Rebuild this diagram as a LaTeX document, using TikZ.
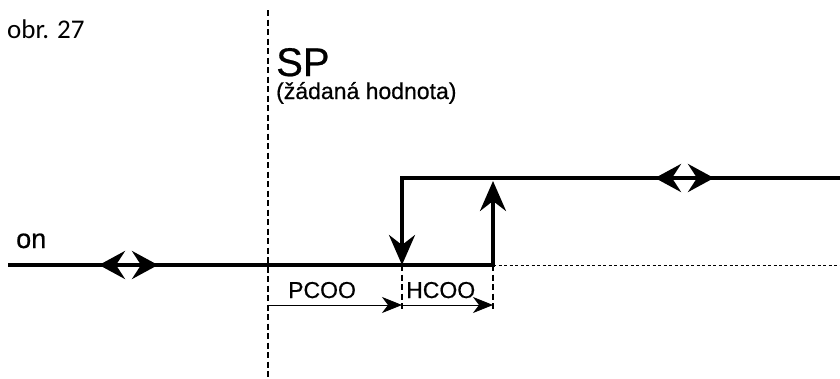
\documentclass[tikz,border=0pt]{standalone}
\usepackage{fontspec}
\setmainfont{Liberation Sans}[FakeBold=0.6]
\newfontfamily\obrfont{Carlito}
\usetikzlibrary{arrows.meta}

\begin{document}
\begin{tikzpicture}[x=1pt,y=-1pt,
  level/.style={line width=4pt,line join=miter},
  bigtip/.style={-{Stealth[length=30pt,width=26pt,inset=10pt]}},
  twin/.style={line width=4pt,-{Stealth[length=26pt,width=28pt,inset=9pt]}},
  dimline/.style={line width=0.9pt,-{Stealth[length=20pt,width=16pt,inset=6pt]}},
  guide/.style={line width=1.1pt,dash pattern=on 6pt off 3.5pt},
  fine/.style={line width=1pt,dash pattern=on 3pt off 2.5pt},
  lbl/.style={anchor=base west,inner sep=0pt}]
\useasboundingbox (0,0) rectangle (840,378);
% set point line
\coordinate (SPtop) at (268,10); \coordinate (SPbot) at (268,378);
\draw[guide] (SPtop) -- (SPbot);
% on and off levels
\coordinate (L) at (8,265); \coordinate (A) at (402,265); \coordinate (B) at (493,265);
\coordinate (A2) at (402,178); \coordinate (B2) at (493,181);
\coordinate (R2) at (840,178); \coordinate (R) at (840,265);
\draw[level,bigtip] (L) -- (B) -- (B2);
\draw[level,bigtip] (R2) -- (A2) -- (A);
\draw[fine] (B) -- (R);
% shifting arrows
\coordinate (T1) at (129,265); \coordinate (T2) at (684,178);
\draw[twin] (T1) -- ++(-30,0); \draw[twin] (T1) -- ++(29,0);
\draw[twin] (T2) -- ++(-29,0); \draw[twin] (T2) -- ++(30,0);
% differentials
\coordinate (Ad) at (402,312); \coordinate (Bd) at (493,312);
\draw[guide] (A) -- (Ad); \draw[guide] (B) -- (Bd);
\coordinate (P0) at (268,305); \coordinate (P1) at (402,305); \coordinate (P2) at (493,305);
\draw[dimline] (P0) -- (P1); \draw[dimline] (P1) -- (P2);
\node[lbl,font=\fontsize{23}{23}\selectfont] (pcoo) at (288,298) {PCOO};
\node[lbl,font=\fontsize{23}{23}\selectfont] (hcoo) at (406,298) {HCOO};
% texts
\node[lbl,font=\obrfont\fontsize{27}{27}\selectfont] (obr) at (7,38) {obr. 27};
\node[lbl,font=\fontsize{40}{40}\selectfont] (sp) at (276,76) {SP};
\node[lbl,font=\fontsize{23}{23}\selectfont] (zad) at (276,99) {(žádaná hodnota)};
\node[lbl,font=\fontsize{27}{27}\selectfont] (on) at (16,248) {on};
\end{tikzpicture}
\end{document}
